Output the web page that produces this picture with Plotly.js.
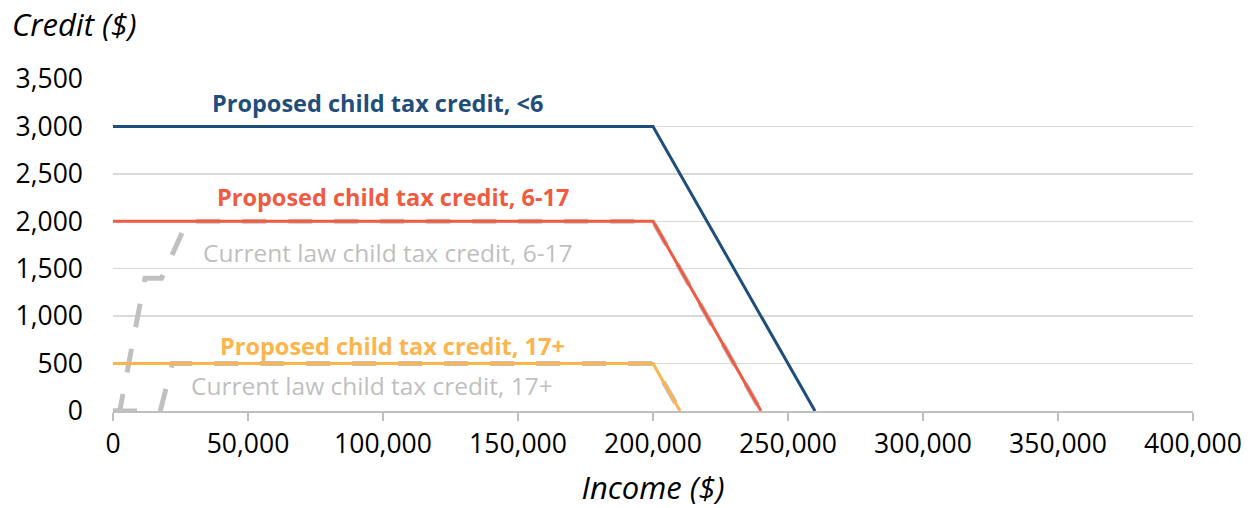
<!DOCTYPE html>
<html>
<head>
<meta charset="utf-8">
<script src="https://cdn.plot.ly/plotly-3.0.1.min.js"></script>
<style>html,body{margin:0;padding:0;background:#fff;}#chart{width:1253px;height:508px;}</style>
</head>
<body>
<div id="chart"></div>
<script>
// Income ($) breakpoints and credit ($) values for each schedule
const propUnder6X = [0, 200000, 260000];
const propUnder6Y = [3000, 3000, 0];
const prop6to17X = [0, 200000, 240000];
const prop6to17Y = [2000, 2000, 0];
const prop17PlusX = [0, 200000, 210000];
const prop17PlusY = [500, 500, 0];
const cur6to17X = [0, 2500, 11833, 18000, 27500, 200000, 240000];
const cur6to17Y = [0, 0, 1400, 1400, 2000, 2000, 0];
const cur17PlusX = [0, 17500, 22000, 200000, 210000];
const cur17PlusY = [0, 0, 500, 500, 0];

const labels = [
  {text: "Proposed child tax credit, <6", x: 97800, y: 3247, color: "#1F4E7C", bold: true},
  {text: "Proposed child tax credit, 6-17", x: 103700, y: 2256, color: "#F15A40", bold: true},
  {text: "Current law child tax credit, 6-17", x: 101900, y: 1676, color: "#BFBFBF", bold: false},
  {text: "Proposed child tax credit, 17+", x: 103700, y: 685, color: "#FDB44B", bold: true},
  {text: "Current law child tax credit, 17+", x: 96000, y: 274, color: "#BFBFBF", bold: false}
];

const grey = "#C0C0C2";
const traces = [
  {x: cur6to17X, y: cur6to17Y, mode: "lines", line: {color: grey, width: 5, dash: "24px,22px"}},
  {x: cur17PlusX, y: cur17PlusY, mode: "lines", line: {color: grey, width: 5, dash: "24px,22px"}},
  {x: propUnder6X, y: propUnder6Y, mode: "lines", line: {color: "#1F4E7C", width: 3}},
  {x: prop6to17X, y: prop6to17Y, mode: "lines", line: {color: "#F15A40", width: 3}},
  {x: prop17PlusX, y: prop17PlusY, mode: "lines", line: {color: "#FDB44B", width: 3}}
];

const fontFam = "'Open Sans', 'Noto Sans', sans-serif";
const annots = labels.map(l => ({
  x: l.x, y: l.y, xref: "x", yref: "y", showarrow: false,
  text: l.bold ? "<b>" + l.text + "</b>" : l.text,
  font: {size: l.bold ? 23.5 : 24.5, color: l.color, family: fontFam},
  xanchor: "center", yanchor: "middle"
}));
annots.push({
  x: -103/1080, y: 1 + (79 - 24)/332, xref: "paper", yref: "paper", showarrow: false,
  text: "<i>Credit ($)</i>", font: {size: 31, color: "#000", family: fontFam},
  xanchor: "left", yanchor: "middle"
});

const layout = {
  width: 1253, height: 508,
  margin: {l: 113, r: 60, t: 79, b: 97},
  paper_bgcolor: "#fff", plot_bgcolor: "#fff",
  showlegend: false,
  font: {family: fontFam, size: 26, color: "#000"},
  xaxis: {
    range: [0, 400000], dtick: 50000, tickformat: ",d",
    showgrid: false, zeroline: false,
    showline: true, linecolor: "#BFBFBF", linewidth: 2,
    ticks: "outside", ticklen: 8, tickwidth: 2, tickcolor: "#BFBFBF",
    tickfont: {size: 26.5, color: "#000"},
    title: {text: "<i>Income ($)</i>", font: {size: 31, color: "#000"}, standoff: 18}
  },
  yaxis: {
    range: [0, 3500], dtick: 500, tickformat: ",d",
    showgrid: true, gridcolor: "#D9D9D9", gridwidth: 1.5,
    zeroline: false, showline: false, ticks: "",
    ticklabelstandoff: 29,
    tickfont: {size: 26.5, color: "#000"}
  },
  annotations: annots
};

Plotly.newPlot("chart", traces, layout, {displayModeBar: false, staticPlot: true});
</script>
</body>
</html>
